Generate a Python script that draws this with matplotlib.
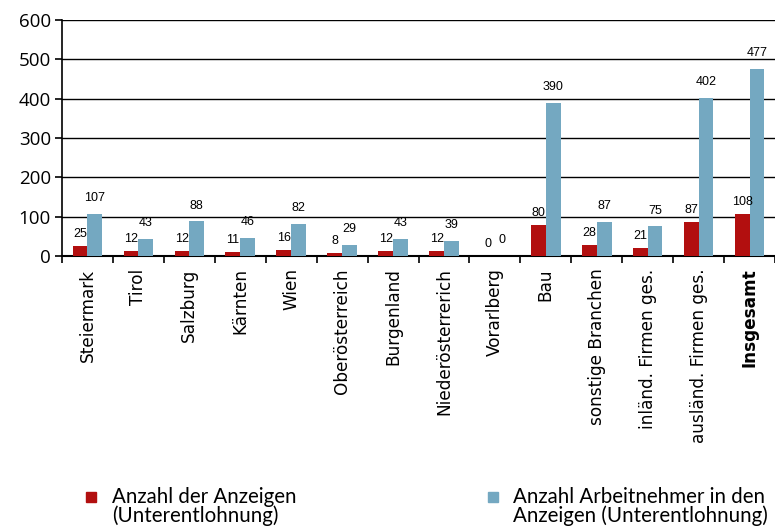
import numpy as np
import matplotlib.pyplot as plt
import matplotlib.patches as mpatches

categories = ['Steiermark', 'Tirol', 'Salzburg', 'Kärnten', 'Wien', 'Oberösterreich',
              'Burgenland', 'Niederösterrerich', 'Vorarlberg', 'Bau', 'sonstige Branchen',
              'inländ. Firmen ges.', 'ausländ. Firmen ges.', 'Insgesamt']
anzeigen = [25, 12, 12, 11, 16, 8, 12, 12, 0, 80, 28, 21, 87, 108]
arbeitnehmer = [107, 43, 88, 46, 82, 29, 43, 39, 0, 390, 87, 75, 402, 477]
yticks = [0, 100, 200, 300, 400, 500, 600]

red = '#B20F0F'
blue = '#74A8C1'

fig = plt.figure(figsize=(7.75, 5.31), dpi=100)
ax = fig.add_axes([0.08, 0.518, 0.92, 0.444])

x = np.arange(len(categories))
w = 0.29
ax.bar(x - 0.145, anzeigen, w, color=red, zorder=3)
ax.bar(x + 0.145, arbeitnehmer, w, color=blue, zorder=3)

for i in range(len(categories)):
    ax.text(x[i] - 0.145, anzeigen[i] + 30, str(anzeigen[i]), ha='center', va='center',
            fontsize=9, family='Liberation Sans')
    ax.text(x[i] + 0.145, arbeitnehmer[i] + 40, str(arbeitnehmer[i]), ha='center', va='center',
            fontsize=9, family='Liberation Sans')

ax.set_xlim(-0.5, len(categories) - 0.5)
ax.set_ylim(0, 600)
ax.set_yticks(yticks)
ax.set_yticklabels([str(v) for v in yticks], fontsize=13.5, family='Open Sans')
ax.yaxis.grid(True, color='black', linewidth=1.0, zorder=0)
ax.set_axisbelow(True)

ax.set_xticks(np.arange(len(categories) + 1) - 0.5)
ax.set_xticklabels([])
ax.set_xticks(x, minor=True)
ax.set_xticklabels(categories, minor=True, rotation=90, fontsize=12.2, family='DejaVu Sans')
for lbl in ax.get_xticklabels(minor=True):
    if lbl.get_text() == 'Insgesamt':
        lbl.set_fontweight('bold')
ax.tick_params(axis='x', which='minor', length=0, pad=9)
ax.tick_params(axis='x', which='major', length=5, width=1.2, direction='out')
ax.tick_params(axis='y', length=5, width=1.2, pad=3)

for s in ['top', 'right']:
    ax.spines[s].set_visible(False)
ax.spines['left'].set_linewidth(1.2)
ax.spines['bottom'].set_linewidth(1.5)

# legend
fig.patches.append(mpatches.Rectangle((86 / 775, 1 - 502 / 531), 10 / 775, 10 / 531,
                                      color=red, transform=fig.transFigure))
fig.patches.append(mpatches.Rectangle((488 / 775, 1 - 502 / 531), 10 / 775, 10 / 531,
                                      color=blue, transform=fig.transFigure))
fig.text(112 / 775, 1 - 487 / 531, 'Anzahl der Anzeigen\n(Unterentlohnung)', fontsize=14.8,
         family='Lato', va='top', linespacing=0.92)
fig.text(513 / 775, 1 - 487 / 531, 'Anzahl Arbeitnehmer in den\nAnzeigen (Unterentlohnung)',
         fontsize=14.8, family='Lato', va='top', linespacing=0.92)

fig.savefig('out.png', dpi=100)
